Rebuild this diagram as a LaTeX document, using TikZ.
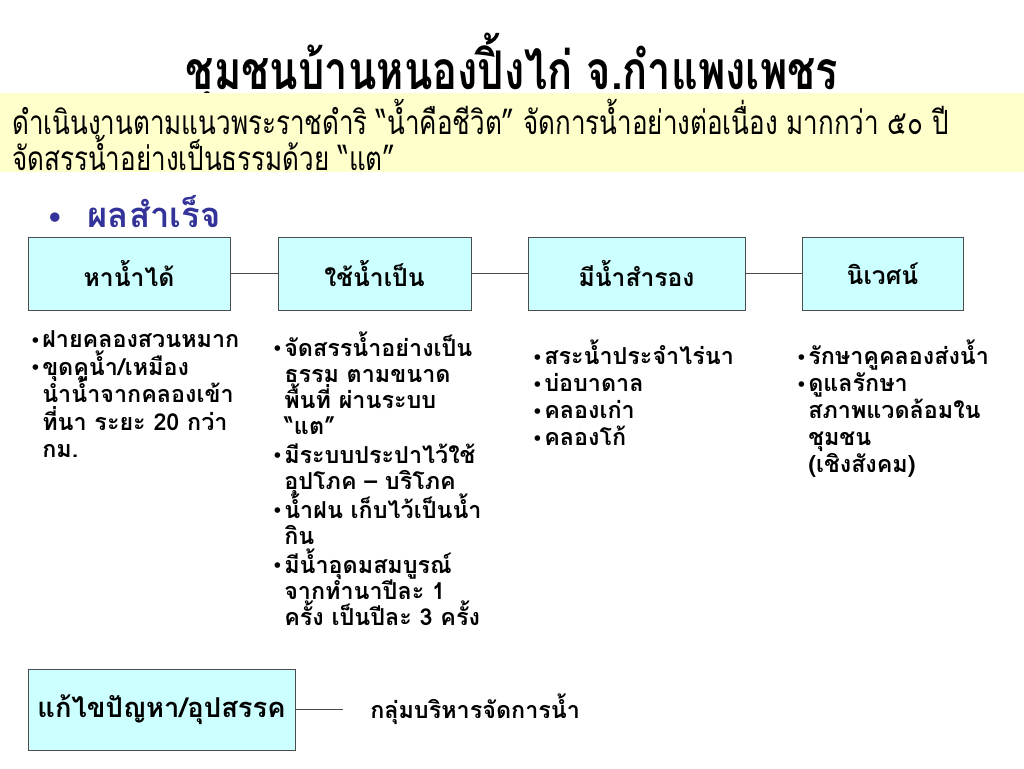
\documentclass[tikz,border=0pt]{standalone}
\usepackage{fontspec}
\setmainfont[Script=Thai]{Loma}
\newfontfamily\narrowfont[Script=Thai,FakeStretch=0.78]{Loma}
\newfontfamily\symfont{DejaVu Sans}
\usetikzlibrary{positioning}

\definecolor{boxcyan}{HTML}{CCFFFF}
\definecolor{bandyellow}{HTML}{FFFFCC}
\definecolor{headnavy}{HTML}{333399}

% bullet with hanging indent, \nl breaks a line inside an item
\newcommand{\bitem}{\par\noindent\hangindent=9pt\hangafter=1\makebox[9pt][l]{\raisebox{1pt}{\symfont\fontsize{12}{12}\selectfont •}}}
\newcommand{\nl}{\hfil\break}

\begin{document}
\begin{tikzpicture}[x=0.75pt,y=-0.75pt,
    stepbox/.style={draw=black!70, fill=boxcyan, minimum height=54.75pt, inner sep=0pt,
        font=\bfseries\fontsize{18.5}{22}\selectfont},
    link/.style={draw=black!70, thin},
    itemlist/.style={anchor=north west, inner sep=0pt, text width=175pt, align=left,
        font=\bfseries\fontsize{17.5}{20.3}\selectfont,
        execute at begin node={\lineskiplimit=-20pt}}]
\useasboundingbox (0,0) rectangle (1024,768);

% Title and yellow band
\node (title) at (512,68) {\narrowfont\bfseries\fontsize{40}{44}\selectfont ชุมชนบ้านหนองปิ้งไก่ จ.กำแพงเพชร};
\fill[bandyellow] (0,93) rectangle (1024,172);
\node[anchor=west, inner sep=0pt] (band1) at (12,117) {\narrowfont\fontsize{25}{28}\selectfont ดำเนินงานตามแนวพระราชดำริ “น้ำคือชีวิต” จัดการน้ำอย่างต่อเนื่อง มากกว่า ๕๐ ปี};
\node[anchor=west, inner sep=0pt] (band2) at (12,153) {\narrowfont\fontsize{25}{28}\selectfont จัดสรรน้ำอย่างเป็นธรรมด้วย “แต”};

% Heading
\node[anchor=west, inner sep=0pt, text=headnavy, font=\bfseries\fontsize{26}{30}\selectfont] (head) at (46,212)
    {\makebox[31pt][l]{\symfont\fontsize{20}{20}\selectfont •}ผลสำเร็จ};

% Result boxes
\node[stepbox, minimum width=151.5pt] (find) at (129,273.5) {หาน้ำได้};
\node[stepbox, minimum width=144.75pt] (use) at (374.5,273.5) {ใช้น้ำเป็น};
\node[stepbox, minimum width=162.75pt] (store) at (636.5,273.5) {มีน้ำสำรอง};
\node[stepbox, minimum width=120.75pt] (eco) at (882.5,273.5) {นิเวศน์};
\draw[link] (find) -- (use);
\draw[link] (use) -- (store);
\draw[link] (store) -- (eco);

% Lists
\node[itemlist] (findlist) at (30,320) {\baselineskip=20.6pt
    \bitem ฝายคลองสวนหมาก
    \bitem ขุดคูน้ำ/เหมือง\nl นำน้ำจากคลองเข้า\nl ที่นา ระยะ 20 กว่า\nl กม.\par};
\node[itemlist] (uselist) at (272,327) {\baselineskip=19.5pt\parskip=2.2pt
    \bitem จัดสรรน้ำอย่างเป็น\nl ธรรม ตามขนาด\nl พื้นที่ ผ่านระบบ\nl “แต”
    \bitem มีระบบประปาไว้ใช้\nl อุปโภค – บริโภค
    \bitem น้ำฝน เก็บไว้เป็นน้ำ\nl กิน
    \bitem มีน้ำอุดมสมบูรณ์\nl จากทำนาปีละ 1\nl ครั้ง เป็นปีละ 3 ครั้ง\par};
\node[itemlist] (storelist) at (532,337) {%
    \bitem สระน้ำประจำไร่นา
    \bitem บ่อบาดาล
    \bitem คลองเก่า
    \bitem คลองโก้\par};
\node[itemlist] (ecolist) at (796,337) {%
    \bitem รักษาคูคลองส่งน้ำ
    \bitem ดูแลรักษา\nl สภาพแวดล้อมใน\nl ชุมชน\nl (เชิงสังคม)\par};

% Problems
\node[stepbox, minimum width=200.25pt, minimum height=60.75pt, font=\bfseries\fontsize{20.5}{24}\selectfont] (fix) at (161.5,709.5) {แก้ไขปัญหา/อุปสรรค};
\coordinate (fixend) at (343,709.5);
\node[anchor=west, inner sep=0pt, font=\bfseries\fontsize{17.5}{20}\selectfont] (group) at (370,709.5) {กลุ่มบริหารจัดการน้ำ};
\draw[link] (fix) -- (fixend);
\end{tikzpicture}
\end{document}
